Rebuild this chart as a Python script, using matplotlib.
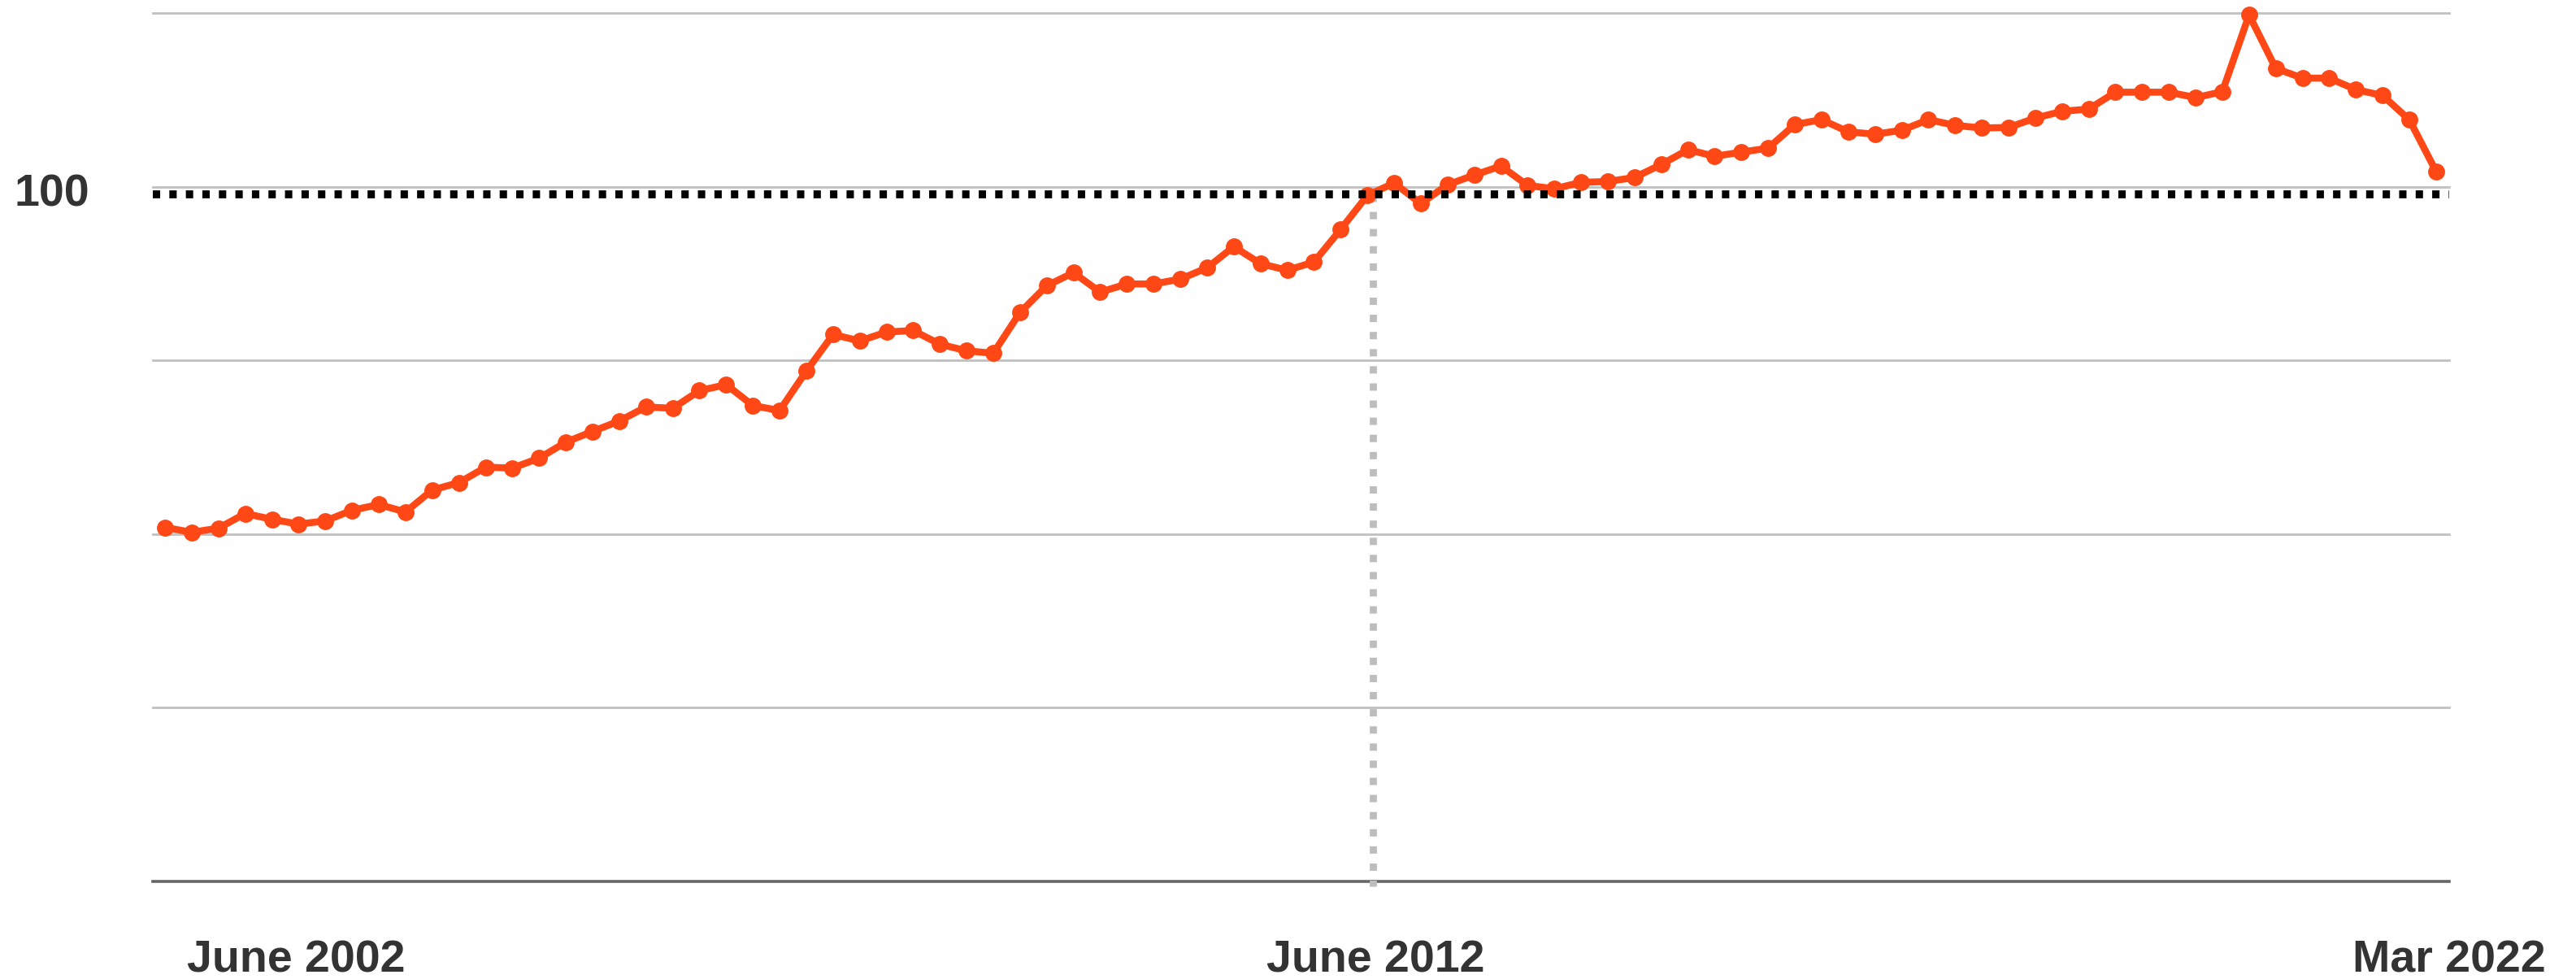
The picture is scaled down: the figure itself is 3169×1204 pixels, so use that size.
import numpy as np
import matplotlib.pyplot as plt
import matplotlib.transforms as mtransforms

# quarterly index values (100 = reference level)
values = [80.83, 80.55, 80.79, 81.63, 81.30, 81.02, 81.21, 81.82, 82.15, 81.72,
          82.99, 83.41, 84.30, 84.25, 84.82, 85.74, 86.36, 86.96, 87.77, 87.69,
          88.71, 89.05, 87.85, 87.56, 89.83, 91.94, 91.57, 92.08, 92.17, 91.38,
          91.00, 90.86, 93.21, 94.75, 95.50, 94.38, 94.85, 94.85, 95.13, 95.78,
          97.00, 96.02, 95.64, 96.11, 97.99, 99.95, 100.66, 99.48, 100.56, 101.12,
          101.64, 100.52, 100.33, 100.70, 100.75, 100.98, 101.73, 102.58, 102.20, 102.44,
          102.67, 104.03, 104.31, 103.61, 103.47, 103.70, 104.31, 103.98, 103.83, 103.86,
          104.40, 104.79, 104.92, 105.89, 105.89, 105.89, 105.58, 105.92, 110.34, 107.26,
          106.70, 106.70, 106.04, 105.70, 104.30, 101.33]

grid_levels = [60.45, 70.45, 80.45, 90.45, 100.45, 110.45]
base_level = 100
split_pos = 45.2
tick_pos = [4.9, 45.3, 85.5]
tick_labels = ['June 2002', 'June 2012', 'Mar 2022']

plt.rcParams['font.family'] = ['Liberation Sans', 'DejaVu Sans']

W, H = 3169, 1204
fig = plt.figure(figsize=(W / 100, H / 100), dpi=100)
ax = fig.add_axes([188 / W, 1 - 1084 / H, (3013 - 188) / W, (1084 - 16) / H])
ax.axis('off')

x = np.arange(len(values))
ax.set_xlim(-0.46, 85.49)
ax.set_ylim(grid_levels[0], grid_levels[-1])

for lv in grid_levels[1:]:
    ax.axhline(lv, color='#c0c0c0', lw=2, zorder=1, clip_on=False)
ax.axhline(grid_levels[0], color='#666666', lw=2.6, zorder=2, clip_on=False)

# split marker
ax.plot([split_pos, split_pos], [base_level, grid_levels[0] - 0.3], color='#bdbdbd',
        lw=6.3, linestyle=(0, (1.03, 1.38)), zorder=2, clip_on=False)

ax.plot(x, values, color='#ff4815', lw=6.2, marker='o', ms=14, zorder=4, clip_on=False)

# reference level, drawn on top of the series
ax.axhline(base_level, color='black', lw=7, linestyle=(0, (0.93, 1.16)), zorder=5)

trans = mtransforms.blended_transform_factory(fig.transFigure, ax.transData)
ax.annotate(str(base_level), xy=(110 / W, base_level), xycoords=trans,
            xytext=(0, -10), textcoords='offset points', ha='right', va='baseline',
            fontsize=40, fontweight='bold', color='#333333')

for pos, lab in zip(tick_pos, tick_labels):
    ax.annotate(lab, xy=(pos, 0), xycoords=('data', 'axes fraction'),
                xytext=(0, -80), textcoords='offset points', ha='center', va='baseline',
                fontsize=40, fontweight='bold', color='#333333', annotation_clip=False)

fig.savefig('out.png', dpi=100)
